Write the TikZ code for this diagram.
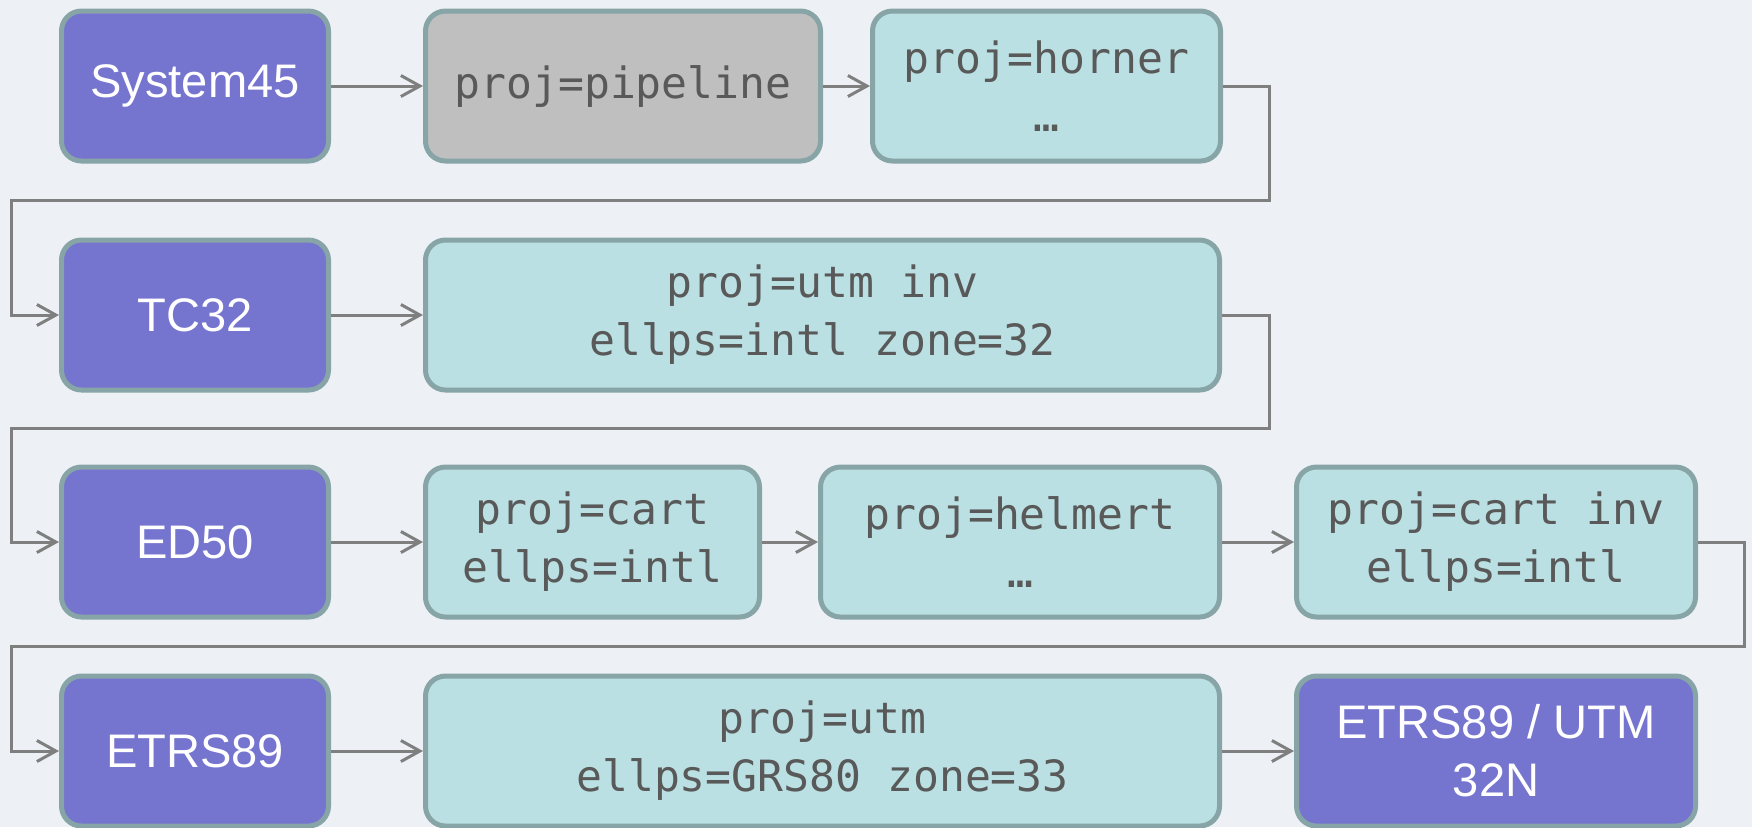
\documentclass[tikz,border=0pt]{standalone}
\usepackage{fontspec}
\setmainfont{Liberation Sans}
\newfontfamily\monofont{DejaVu Sans Mono}
\usetikzlibrary{arrows.meta}
\definecolor{crsfill}{RGB}{117,117,207}
\definecolor{stepfill}{RGB}{187,224,227}
\definecolor{pipefill}{RGB}{191,191,191}
\definecolor{edge}{RGB}{135,164,166}
\definecolor{wire}{RGB}{127,127,127}
\definecolor{codegray}{RGB}{89,89,89}
\definecolor{bg}{RGB}{237,241,245}
\begin{document}
\begin{tikzpicture}
	[	crs/.style={rectangle,rounded corners=.2cm,draw=edge,line width=.05cm,fill=crsfill,
		text=white,align=center,minimum width=2.67cm,minimum height=1.5cm,
		font=\fontsize{13.4}{16.5}\selectfont},
	op/.style={rectangle,rounded corners=.2cm,draw=edge,line width=.05cm,fill=stepfill,
		text=codegray,align=center,minimum height=1.5cm,
		font=\monofont\fontsize{12.25}{16.5}\selectfont},
	link/.style={draw=wire,line width=.03cm,-{Straight Barb[length=.19cm,width=.21cm]}}
	]
	\useasboundingbox (0,0) rectangle (17.52,-8.27);
	\fill[bg] (0,0) rectangle (17.52,-8.27);

	% row 1
	\node[crs] (sys) at (1.95,-0.86){System45};
	\node[op,fill=pipefill,minimum width=3.95cm] (pipe) at (6.23,-0.86){proj=pipeline};
	\node[op,minimum width=3.48cm] (horner) at (10.465,-0.86){proj=horner\\…};
	% row 2
	\node[crs] (tc) at (1.95,-3.15){TC32};
	\node[op,minimum width=7.94cm] (utminv) at (8.225,-3.15){proj=utm inv\\ellps=intl zone=32};
	% row 3
	\node[crs] (ed) at (1.95,-5.42){ED50};
	\node[op,minimum width=3.34cm] (cart) at (5.925,-5.42){proj=cart\\ellps=intl};
	\node[op,minimum width=3.99cm] (helm) at (10.20,-5.42){proj=helmert\\…};
	\node[op,minimum width=3.99cm] (cartinv) at (14.96,-5.42){proj=cart inv\\ellps=intl};
	% row 4
	\node[crs] (etrs) at (1.95,-7.51){ETRS89};
	\node[op,minimum width=7.94cm] (utm) at (8.225,-7.51){proj=utm\\ellps=GRS80 zone=33};
	\node[crs,minimum width=3.99cm] (utm32) at (14.96,-7.51){ETRS89 / UTM\\32N};

	\coordinate (r1) at (12.69,-2.00);
	\coordinate (l1) at (0.11,-2.00);
	\coordinate (r2) at (12.69,-4.28);
	\coordinate (l2) at (0.11,-4.28);
	\coordinate (r3) at (17.44,-6.46);
	\coordinate (l3) at (0.11,-6.46);

	\draw[link] (sys) -- (pipe);
	\draw[link] (pipe) -- (horner);
	\draw[link] (horner.east) -| (r1) -- (l1) |- (tc.west);
	\draw[link] (tc) -- (utminv);
	\draw[link] (utminv.east) -| (r2) -- (l2) |- (ed.west);
	\draw[link] (ed) -- (cart);
	\draw[link] (cart) -- (helm);
	\draw[link] (helm) -- (cartinv);
	\draw[link] (cartinv.east) -| (r3) -- (l3) |- (etrs.west);
	\draw[link] (etrs) -- (utm);
	\draw[link] (utm) -- (utm32);
\end{tikzpicture}
\end{document}
